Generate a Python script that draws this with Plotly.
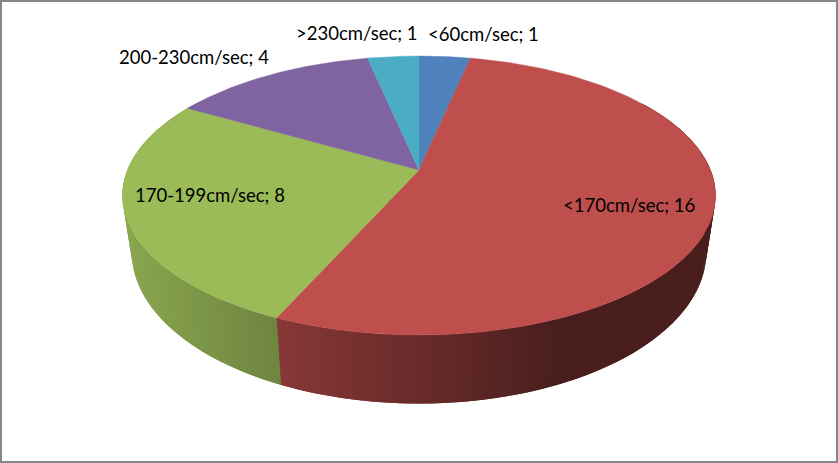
import numpy as np
import plotly.graph_objects as go

# --- data ---
categories = ["<60cm/sec", "<170cm/sec", "170-199cm/sec", "200-230cm/sec", ">230cm/sec"]
values = [1, 16, 8, 4, 1]

# --- styles ---
colors = ["#4F81BD", "#BE4F4C", "#9BBB59", "#8064A2", "#4BACC6"]
label_x = [426, 561, 133, 117, 294]
label_y = [34, 205, 195, 57, 33]
FONT = "Lato"
FONT_SIZE = 18.5

# --- projection of the tilted disc onto the page ---
W, H = 838, 463
CX, CY = 419, 170
A, B, Q = 291.5, 134.8, 0.183


def top(t):
    w = 1 + Q * np.cos(t)
    return CX + A * np.sin(t) / w, CY - B * np.cos(t) / w


def bottom(t):
    x, y = top(t)
    return CX + (x - CX) * 0.969, CY + (y - CY) * 1.088 + 54


def rgb(hexcol):
    return np.array([int(hexcol[i:i + 2], 16) for i in (1, 3, 5)], float)


def shade(hexcol, x):
    k = float(np.clip(0.88 - (x - 130) * 0.00115, 0.385, 1.0))
    r, g, b = rgb(hexcol) * k
    return f"rgb({r:.0f},{g:.0f},{b:.0f})"


fig = go.Figure()
edges = np.radians(np.concatenate([[0], np.cumsum(values)]) / sum(values) * 360)

# side walls: thin overlapping strips along the visible rim
STEP = np.radians(1.0)
for i in range(len(values)):
    a0, a1 = edges[i], edges[i + 1]
    n = max(1, int(np.ceil((a1 - a0) / STEP)))
    grid = np.linspace(a0, a1, n + 1)
    for s, e in zip(grid[:-1], grid[1:]):
        mid = (s + e) / 2
        if np.cos(mid) > 0.55:
            continue
        # each strip runs on under the one painted after it, so no seam shows
        arc = np.linspace(s, e + STEP, 5)
        xt, yt = top(arc)
        xb, yb = bottom(arc[::-1])
        col = shade(colors[i], float(top(mid)[0]))
        fig.add_trace(go.Scatter(
            x=list(xt) + list(xb) + [xt[0]], y=list(yt) + list(yb) + [yt[0]],
            mode="lines", fill="toself", fillcolor=col,
            line=dict(color=col, width=0), hoverinfo="skip", showlegend=False))

# top faces
for i in range(len(values)):
    ts = np.linspace(edges[i], edges[i + 1], 120)
    xs, ys = top(ts)
    fig.add_trace(go.Scatter(
        x=[CX] + list(xs) + [CX], y=[CY] + list(ys) + [CY],
        mode="lines", fill="toself", fillcolor=colors[i],
        line=dict(color=colors[i], width=0.5), name=categories[i],
        hoverinfo="name", showlegend=False))

# labels
for cat, val, lx, ly in zip(categories, values, label_x, label_y):
    fig.add_annotation(x=lx, y=ly, text=f"{cat}; {val}", showarrow=False,
                       xanchor="left", yanchor="middle", xref="x", yref="y",
                       font=dict(family=FONT, size=FONT_SIZE, color="#000000"))

fig.add_shape(type="rect", x0=1, y0=1, x1=W - 1, y1=H - 1,
              line=dict(color="#868686", width=2), layer="above")

fig.update_layout(
    width=W, height=H, margin=dict(l=0, r=0, t=0, b=0, pad=0),
    paper_bgcolor="#FFFFFF", plot_bgcolor="#FFFFFF", showlegend=False,
    xaxis=dict(range=[0, W], visible=False, fixedrange=True),
    yaxis=dict(range=[H, 0], visible=False, fixedrange=True),
)
fig.write_html("out.html", config={"displayModeBar": False},
               post_script="document.body.style.margin='0';document.body.style.overflow='hidden';")
